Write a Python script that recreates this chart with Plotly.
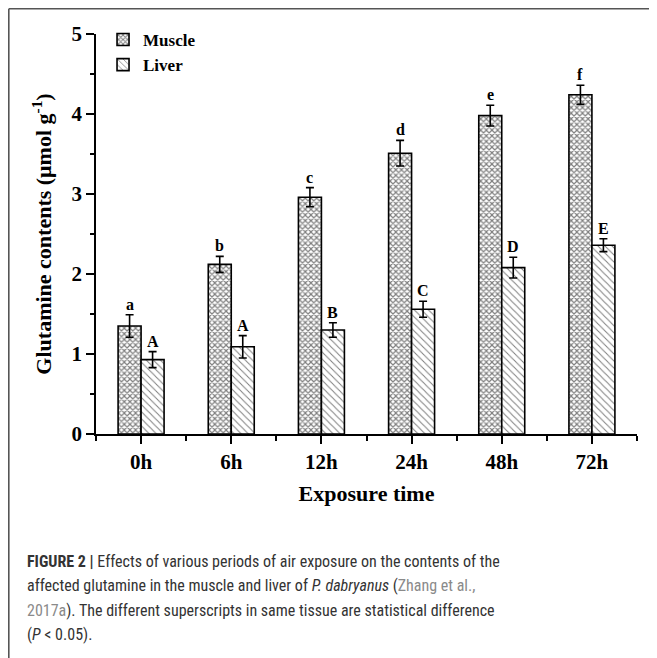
import plotly.graph_objects as go

categories = ["0h", "6h", "12h", "24h", "48h", "72h"]
muscle = [1.35, 2.12, 2.96, 3.51, 3.98, 4.24]
muscle_err = [0.14, 0.10, 0.12, 0.16, 0.13, 0.12]
liver = [0.93, 1.09, 1.30, 1.56, 2.08, 2.36]
liver_err = [0.10, 0.14, 0.09, 0.10, 0.13, 0.08]
muscle_letters = ["a", "b", "c", "d", "e", "f"]
liver_letters = ["A", "A", "B", "C", "D", "E"]
y_ticks = [0, 1, 2, 3, 4, 5]

SERIF = "Liberation Serif, Times New Roman, serif"
SANS = "Liberation Sans Narrow, Arial Narrow, Roboto Condensed, Liberation Sans, sans-serif"

OFF = 8  # browser body margin
L, R, T, B = 96 - OFF, 20, 34 - OFF, 224
W, H = 657 - OFF, 658 - OFF
PW, PH = W - L - R, H - T - B

def px_x(p):
    return (p - OFF - L) / PW

def px_y(p):
    return (H - B - (p - OFF)) / PH

xs = list(range(len(categories)))
bargap = 0.49
bw = (1 - bargap) / 2

fig = go.Figure()
fig.add_trace(go.Bar(
    x=xs, y=muscle, name="<b>Muscle</b>",
    error_y=dict(type="data", array=muscle_err, color="black", thickness=1.6, width=4),
    marker=dict(color="white", line=dict(color="black", width=1.6),
                pattern=dict(shape="x", size=4, solidity=0.5, fgcolor="black", bgcolor="white")),
))
fig.add_trace(go.Bar(
    x=xs, y=liver, name="<b>Liver</b>",
    error_y=dict(type="data", array=liver_err, color="black", thickness=1.6, width=4),
    marker=dict(color="white", line=dict(color="black", width=1.6),
                pattern=dict(shape="\\", size=5, solidity=0.2, fgcolor="black", bgcolor="white")),
))

for i in xs:
    fig.add_annotation(x=i - bw / 2, y=muscle[i] + muscle_err[i], text="<b>%s</b>" % muscle_letters[i],
                       showarrow=False, yanchor="bottom", xanchor="center", yshift=0,
                       font=dict(family=SERIF, size=16, color="black"))
    fig.add_annotation(x=i + bw / 2, y=liver[i] + liver_err[i], text="<b>%s</b>" % liver_letters[i],
                       showarrow=False, yanchor="bottom", xanchor="center", yshift=0,
                       font=dict(family=SERIF, size=16, color="black"))

# frame lines (page border), drawn at the very top/left edge of the figure
fig.add_shape(type="line", xref="paper", yref="paper", x0=px_x(OFF + 0.8), x1=px_x(665),
              y0=px_y(OFF + 0.8), y1=px_y(OFF + 0.8), line=dict(color="#555555", width=1.6))
fig.add_shape(type="line", xref="paper", yref="paper", x0=px_x(OFF + 0.8), x1=px_x(OFF + 0.8),
              y0=px_y(OFF + 0.8), y1=px_y(665), line=dict(color="#555555", width=1.6))

caption_lines = [
    "<b>FIGURE 2 |</b> Effects of various periods of air exposure on the contents of the",
    "affected glutamine in the muscle and liver of <i>P. dabryanus</i> (<span style='color:#8a8a8a'>Zhang et al.,</span>",
    "<span style='color:#8a8a8a'>2017a</span>). The different superscripts in same tissue are statistical difference",
    "(<i>P</i> &lt; 0.05).",
]
caption_y = [561, 585.5, 610, 634]
for line, yy in zip(caption_lines, caption_y):
    fig.add_annotation(x=px_x(25), y=px_y(yy), xref="paper", yref="paper", text=line,
                       showarrow=False, xanchor="left", yanchor="middle", align="left",
                       font=dict(family=SANS, size=16, color="#333333"))

fig.update_layout(
    width=W, height=H,
    margin=dict(l=L, r=R, t=T, b=B),
    paper_bgcolor="white", plot_bgcolor="white",
    barmode="group", bargap=bargap, bargroupgap=0,
    showlegend=True,
    legend=dict(x=0.013, y=1.03, xanchor="left", yanchor="top",
                font=dict(family=SERIF, size=17, color="black"),
                bgcolor="rgba(0,0,0,0)", tracegroupgap=0, itemwidth=30),
    xaxis=dict(range=[-0.5, 5.5], tickmode="array", tickvals=xs,
               ticktext=["<b>%s</b>" % c for c in categories],
               showline=True, linecolor="black", linewidth=1.6,
               ticks="outside", ticklen=8, tickwidth=1.6, tickcolor="black",
               minor=dict(tick0=-0.5, dtick=1, ticks="outside", ticklen=5, tickwidth=1.6, tickcolor="black", showgrid=False),
               showgrid=False, zeroline=False,
               tickfont=dict(family=SERIF, size=21, color="black"),
               title=dict(text="<b>Exposure time</b>", font=dict(family=SERIF, size=22, color="black"), standoff=13)),
    yaxis=dict(range=[0, 5], tickmode="array", tickvals=y_ticks,
               ticktext=["<b>%d</b>" % v for v in y_ticks],
               showline=True, linecolor="black", linewidth=1.6,
               ticks="outside", ticklen=8, tickwidth=1.6, tickcolor="black",
               minor=dict(dtick=0.5, ticks="outside", ticklen=4, tickwidth=1.6, tickcolor="black", showgrid=False),
               showgrid=False, zeroline=False,
               tickfont=dict(family=SERIF, size=21, color="black"),
               title=dict(text="<b>Glutamine contents (μmol g<sup>-1</sup>)</b>", font=dict(family=SERIF, size=22, color="black"), standoff=14)),
)

fig.write_html("out.html")
